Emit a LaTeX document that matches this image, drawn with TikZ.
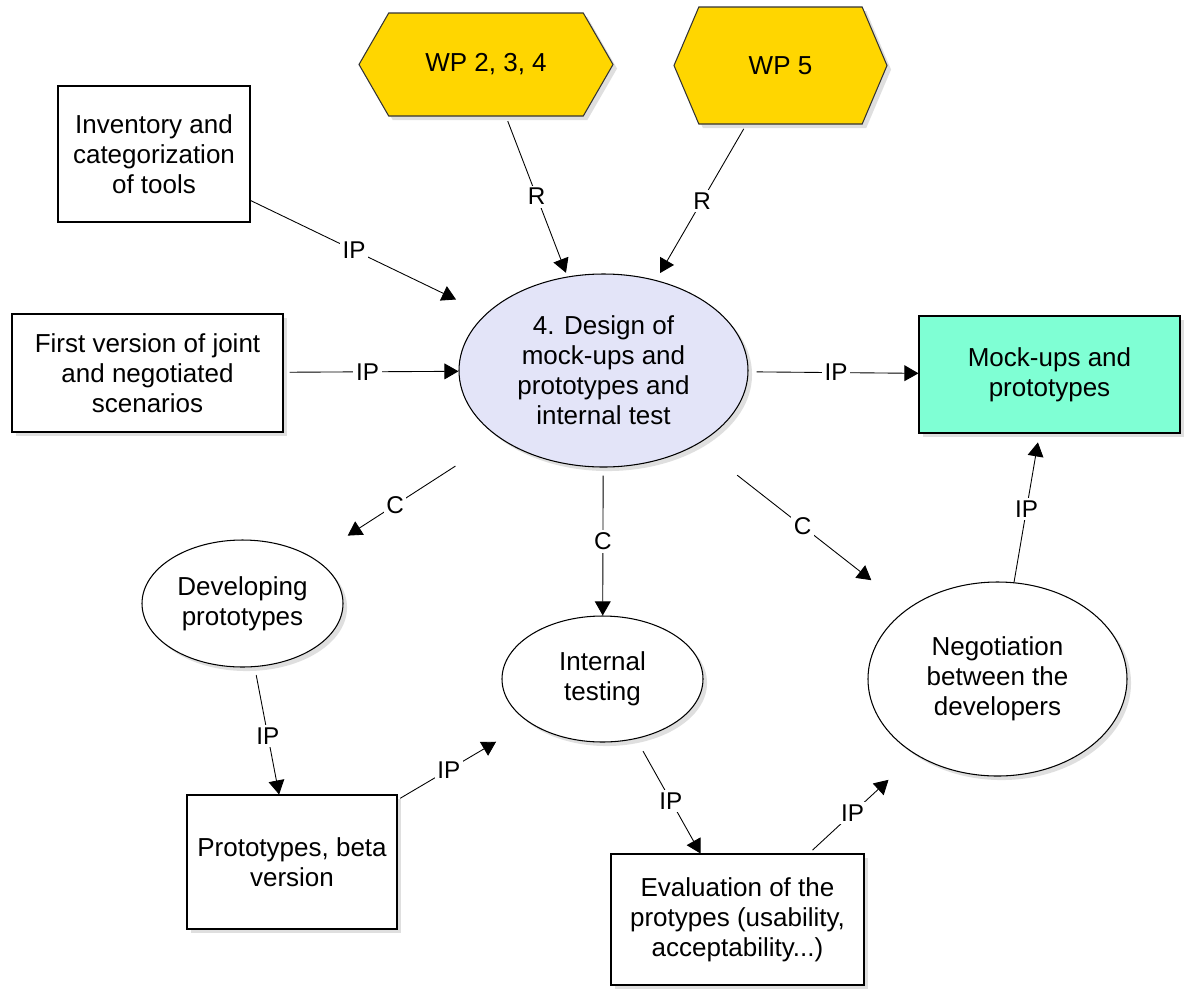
\documentclass[tikz,border=0pt]{standalone}
\usepackage{fontspec}
\setmainfont{Liberation Sans}
\usepackage{tikz}
\usetikzlibrary{shadows}
\usetikzlibrary{positioning}
\usetikzlibrary{arrows.meta,shapes}
\usetikzlibrary{shapes.symbols}
\definecolor{wpgold}{RGB}{255,214,0}
\definecolor{designblue}{RGB}{227,228,248}
\definecolor{mockgreen}{RGB}{127,255,212}
\tikzstyle{txt}=[font=\fontsize{14.8}{17.1}\selectfont, align=center, inner sep=0pt]
\tikzstyle{plainbox}=[txt, rectangle, draw, line width=0.6pt, fill=white]
\tikzstyle{box}=[plainbox, drop shadow={shadow xshift=2.3pt, shadow yshift=-2.3pt, fill=black!25}]
\tikzstyle{oval}=[txt, ellipse, draw, line width=0.6pt, fill=white, drop shadow={shadow xshift=2.3pt, shadow yshift=-2.3pt, fill=black!25}]
\tikzstyle{wp}=[txt, signal, signal to=east and west, draw=black!80, line width=0.6pt, fill=wpgold, drop shadow={shadow xshift=2.3pt, shadow yshift=-2.3pt, fill=black!25}]
\tikzstyle{edge}=[draw, line width=0.5pt, -{Triangle[length=8pt,width=9pt]}]
\tikzstyle{weight}=[font=\fontsize{13.8}{16}\selectfont, fill=white, inner sep=1.5pt]

\begin{document}
\begin{tikzpicture}
\useasboundingbox (0,0) rectangle (23.78,-19.88);

    \node[wp, signal pointer angle=120, minimum width=5.08cm, minimum height=2.06cm] (wpa) at (9.72,-1.29) {WP 2, 3, 4};
    \node[wp, signal pointer angle=134, minimum width=4.26cm, minimum height=2.34cm] (wpb) at (15.61,-1.31) {WP 5};
    \node[plainbox, minimum width=3.84cm, minimum height=2.72cm] (inv) at (3.08,-3.08) {Inventory and\\categorization\\of tools};
    \node[box, minimum width=5.42cm, minimum height=2.36cm] (first) at (2.95,-7.46) {First version of joint\\and negotiated\\scenarios};
    \node[oval, fill=designblue, minimum width=5.78cm, minimum height=3.86cm] (design) at (12.07,-7.41) {4. Design of\\mock-ups and\\prototypes and\\internal test};
    \node[box, fill=mockgreen, minimum width=5.22cm, minimum height=2.34cm] (mock) at (20.99,-7.49) {Mock-ups and\\prototypes};
    \node[oval, minimum width=4.02cm, minimum height=2.54cm] (devp) at (4.85,-12.07) {Developing\\prototypes};
    \node[oval, minimum width=4.02cm, minimum height=2.52cm] (inttest) at (12.05,-13.58) {Internal\\testing};
    \node[oval, minimum width=5.18cm, minimum height=3.88cm] (nego) at (19.95,-13.58) {Negotiation\\between the\\developers};
    \node[box, minimum width=4.2cm, minimum height=2.68cm] (beta) at (5.84,-17.24) {Prototypes, beta\\version};
    \node[box, minimum width=5.06cm, minimum height=2.62cm] (eval) at (14.75,-18.39) {Evaluation of the\\protypes (usability,\\acceptability...)};

    % Connect nodes with arrows and draw labels
    \foreach \source/ \dest/\weight/\where/\sa/\sb in {inv/design/IP/0.44/0/18.8, first/design/IP/0.48/3.4/0, wpa/design/R/0.5/2.8/2.3, wpb/design/R/0.49/2.8/4.6, design/mock/IP/0.515/4.6/0, design/devp/C/0.56/29.6/23.3, design/inttest/C/0.5/4.6/0, design/nego/C/0.5/28.5/26.2, devp/beta/IP/0.54/4.6/0, beta/inttest/IP/0.39/1.7/21.6, inttest/eval/IP/0.54/8/0, eval/nego/IP/0.41/2.8/21, nego/mock/IP/0.49/0/5.1}
        \path[edge, shorten <=\sa pt, shorten >=\sb pt] (\source) -- node[weight, pos=\where] {\weight} (\dest);

\end{tikzpicture}
\end{document}
